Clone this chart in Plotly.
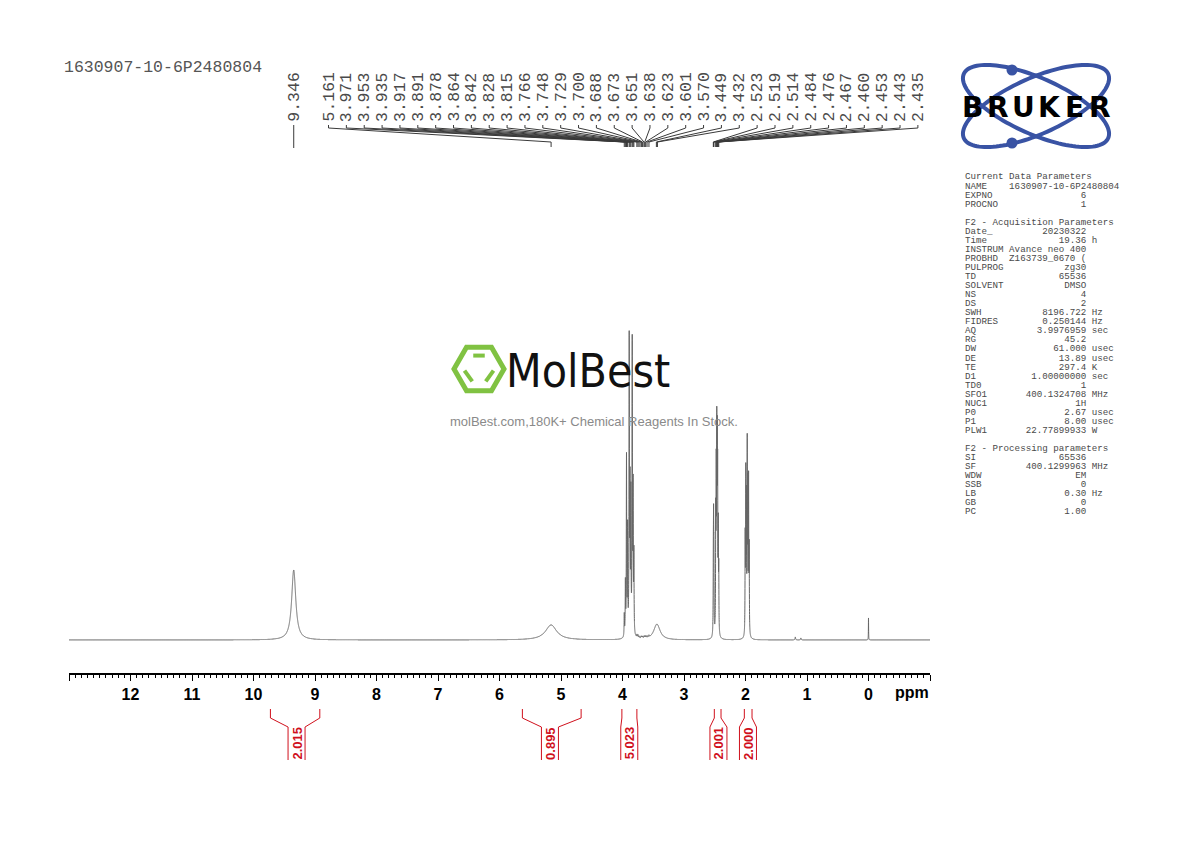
import numpy as np
import plotly.graph_objects as go

# ---------------- data ----------------
# peak list: position (ppm), height (arb.), line width (ppm)
peak_ppm = [9.346, 5.161,
            3.971, 3.953, 3.935, 3.917, 3.891, 3.878, 3.864, 3.842, 3.828, 3.815,
            3.766, 3.748, 3.729, 3.700, 3.688, 3.673, 3.651, 3.638, 3.623, 3.601, 3.570,
            3.449, 3.432,
            2.523, 2.519, 2.514, 2.484, 2.476, 2.467, 2.460, 2.453, 2.443, 2.435,
            2.005, 1.995, 1.985, 1.972, 1.962, 1.950, 1.940,
            1.190, 1.100, 0.000]
peak_height = [70, 15,
               22, 52, 178, 105, 292, 140, 135, 289, 140, 78,
               3, 3, 2, 2, 2, 2, 2, 2, 2, 2, 2,
               8, 8,
               60, 93, 70, 112, 149, 181, 163, 144, 98, 60,
               94, 154, 127, 182, 138, 149, 83,
               3, 2, 22]
peak_width = [0.08, 0.22,
              0.007, 0.007, 0.007, 0.007, 0.007, 0.007, 0.007, 0.007, 0.007, 0.007,
              0.01, 0.01, 0.01, 0.01, 0.01, 0.01, 0.01, 0.01, 0.01, 0.01, 0.01,
              0.12, 0.12,
              0.006, 0.006, 0.006, 0.006, 0.006, 0.006, 0.006, 0.006, 0.006, 0.006,
              0.006, 0.006, 0.006, 0.006, 0.006, 0.006, 0.006,
              0.01, 0.01, 0.004]

# peak labels printed at the top
label_values = ["9.346", "5.161", "3.971", "3.953", "3.935", "3.917", "3.891", "3.878",
                "3.864", "3.842", "3.828", "3.815", "3.766", "3.748", "3.729", "3.700",
                "3.688", "3.673", "3.651", "3.638", "3.623", "3.601", "3.570", "3.449",
                "3.432", "2.523", "2.519", "2.514", "2.484", "2.476", "2.467", "2.460",
                "2.453", "2.443", "2.435"]

# integrals: from, to (ppm), value
integ_from = [9.725, 5.628, 4.010, 2.507, 2.019]
integ_to = [8.922, 4.673, 3.766, 2.398, 1.894]
integ_center = [9.30, 5.18, 3.89, 2.44, 1.96]
integ_value = ["2.015", "0.895", "5.023", "2.001", "2.000"]

axis_ticks = list(range(-1, 14))
axis_labels = ["" if v in (-1, 13) else str(v) for v in axis_ticks]

title_text = "1630907-10-6P2480804"

params = [
    ("Current Data Parameters", None, None),
    ("NAME", "1630907-10-6P2480804", ""),
    ("EXPNO", "6", ""),
    ("PROCNO", "1", ""),
    None,
    ("F2 - Acquisition Parameters", None, None),
    ("Date_", "20230322", ""),
    ("Time", "19.36", "h"),
    ("INSTRUM", "Avance neo 400", ""),
    ("PROBHD", "Z163739_0670 (", ""),
    ("PULPROG", "zg30", ""),
    ("TD", "65536", ""),
    ("SOLVENT", "DMSO", ""),
    ("NS", "4", ""),
    ("DS", "2", ""),
    ("SWH", "8196.722", "Hz"),
    ("FIDRES", "0.250144", "Hz"),
    ("AQ", "3.9976959", "sec"),
    ("RG", "45.2", ""),
    ("DW", "61.000", "usec"),
    ("DE", "13.89", "usec"),
    ("TE", "297.4", "K"),
    ("D1", "1.00000000", "sec"),
    ("TD0", "1", ""),
    ("SFO1", "400.1324708", "MHz"),
    ("NUC1", "1H", ""),
    ("P0", "2.67", "usec"),
    ("P1", "8.00", "usec"),
    ("PLW1", "22.77899933", "W"),
    None,
    ("F2 - Processing parameters", None, None),
    ("SI", "65536", ""),
    ("SF", "400.1299963", "MHz"),
    ("WDW", "EM", ""),
    ("SSB", "0", ""),
    ("LB", "0.30", "Hz"),
    ("GB", "0", ""),
    ("PC", "1.00", ""),
]

# ---------------- layout constants ----------------
W, H = 1190, 842
PL, PR, PT, PB = 69, 930, 0, 673
X_LEFT, X_RIGHT = 13.0, -1.0
Y_RANGE = [-33, 640]

def ppx(p):  # pixel x -> paper x
    return (p - PL) / (PR - PL)

def ppy(p):  # pixel y -> paper y
    return (PB - p) / (PB - PT)

def ppm_at(p):  # pixel x -> ppm
    return X_LEFT + (p - PL) / (PR - PL) * (X_RIGHT - X_LEFT)

def pix_of(v):  # ppm -> pixel x
    return PL + (v - X_LEFT) / (X_RIGHT - X_LEFT) * (PR - PL)

PX_PER_PPM = (PR - PL) / (X_LEFT - X_RIGHT)

# ---------------- spectrum ----------------
xs = np.arange(-1.0, 13.0 + 1e-9, 0.0005)
ys = np.zeros_like(xs)
for p, h, w in zip(peak_ppm, peak_height, peak_width):
    g = (w / 2) ** 2
    ys += h * g / ((xs - p) ** 2 + g)

fig = go.Figure()
fig.add_trace(go.Scatter(x=xs, y=ys, mode="lines",
                         line=dict(color="#666666", width=1, simplify=False),
                         hoverinfo="skip", showlegend=False))

shapes = []
ann = []

LINE_C = "#3a3a3a"
MONO = "Liberation Mono, Courier New, monospace"

# title
ann.append(dict(x=ppx(62), y=ppy(68), xref="paper", yref="paper", text=title_text,
                showarrow=False, xanchor="left", yanchor="middle",
                font=dict(family=MONO, size=16.5, color="#555555")))

# peak labels + connectors
LX0, LDX = 328.5, 17.86
for i, lab in enumerate(label_values):
    v = float(lab)
    pk = v
    if i == 0:
        lx = pix_of(v)
    else:
        lx = LX0 + (i - 1) * LDX
    ann.append(dict(x=ppx(lx), y=ppy(97), xref="paper", yref="paper", text=lab,
                    showarrow=False, textangle=-90, xanchor="center", yanchor="middle",
                    font=dict(family=MONO, size=16.5, color="#4a4a4a")))
    lxp = ppm_at(lx)
    if i == 0:
        path = f"M {lxp},{ppy(125)} L {pk},{ppy(148)}"
    else:
        path = (f"M {lxp},{ppy(125)} L {lxp},{ppy(128)} "
                f"L {pk},{ppy(142)} L {pk},{ppy(147)}")
    shapes.append(dict(type="path", path=path, xref="x", yref="paper",
                       line=dict(color=LINE_C, width=1)))

# integrals
RED = "#d0101c"
for a, b, c, val in zip(integ_from, integ_to, integ_center, integ_value):
    half = 8.5 / PX_PER_PPM
    bl, br = c + half, c - half
    for leg, box in ((a, bl), (b, br)):
        path = (f"M {leg},{ppy(709)} L {leg},{ppy(718)} "
                f"L {box},{ppy(727)} L {box},{ppy(760)}")
        shapes.append(dict(type="path", path=path, xref="x", yref="paper",
                           line=dict(color=RED, width=1)))
    ann.append(dict(x=c, y=ppy(743), xref="x", yref="paper", text=val,
                    showarrow=False, textangle=-90, xanchor="center", yanchor="middle",
                    font=dict(family="Liberation Sans, Arial", size=13, color=RED,
                              weight="bold")))

# ppm unit
ann.append(dict(x=ppm_at(912), y=ppy(693), xref="x", yref="paper", text="ppm",
                showarrow=False, xanchor="center", yanchor="middle",
                font=dict(family="Liberation Sans, Arial", size=16, color="black",
                          weight="bold")))

# parameters block
row = 0
for item in params:
    yv = 177 + row * 9.05
    row += 1
    if item is None:
        continue
    name, value, unit = item
    if value is None:
        txt = name
    else:
        txt = f"{name:<8}{value:>14}"
        if unit:
            txt += " " + unit
    txt = txt.replace(" ", "\u00a0")
    ann.append(dict(x=ppx(963), y=ppy(yv), xref="paper", yref="paper", text=txt,
                    showarrow=False, xanchor="left", yanchor="middle",
                    font=dict(family=MONO, size=9.2, color="#4a4a4a")))

# Bruker logo
BLUE = "#3953a4"
cx, cy = 1036, 106
a_, b_ = 79, 28
for ang in (24, -24):
    t = np.linspace(0, 2 * np.pi, 121)
    th = np.radians(ang)
    ex = cx + a_ * np.cos(t) * np.cos(th) - b_ * np.sin(t) * np.sin(th)
    ey = cy + a_ * np.cos(t) * np.sin(th) + b_ * np.sin(t) * np.cos(th)
    path = "M " + " L ".join(f"{ppx(x)},{ppy(y)}" for x, y in zip(ex, ey)) + " Z"
    shapes.append(dict(type="path", path=path, xref="paper", yref="paper",
                       line=dict(color=BLUE, width=4)))
for dx, dy in ((1012, 70), (1012, 143)):
    shapes.append(dict(type="circle", xref="paper", yref="paper",
                       x0=ppx(dx - 5.5), x1=ppx(dx + 5.5), y0=ppy(dy + 5.5), y1=ppy(dy - 5.5),
                       fillcolor=BLUE, line=dict(color=BLUE, width=0)))
for i, ch in enumerate("BRUKER"):
    ann.append(dict(x=ppx(972.7 + i * 25.5), y=ppy(107), xref="paper", yref="paper",
                    text=ch, showarrow=False, xanchor="center", yanchor="middle",
                    font=dict(family="DejaVu Sans", size=28, color="black", weight="bold")))

# MolBest watermark
GREEN = "#80c242"
hx, hy, hr = 479, 369, 25
hv = hr * 0.866
pts = [(hx - hr, hy), (hx - hr / 2, hy - hv), (hx + hr / 2, hy - hv),
       (hx + hr, hy), (hx + hr / 2, hy + hv), (hx - hr / 2, hy + hv)]
path = "M " + " L ".join(f"{ppx(x)},{ppy(y)}" for x, y in pts) + " Z"
shapes.append(dict(type="path", path=path, xref="paper", yref="paper",
                   line=dict(color=GREEN, width=5)))
ir = hr * 0.62
iv = ir * 0.866
inner = [((hx - ir / 2 + 2, hy - iv), (hx + ir / 2 - 2, hy - iv)),
         ((hx - ir + 1, hy + 1.7), (hx - ir / 2 + 1, hy + iv - 1)),
         ((hx + ir - 1, hy + 1.7), (hx + ir / 2 - 1, hy + iv - 1))]
for (x0, y0), (x1, y1) in inner:
    shapes.append(dict(type="line", xref="paper", yref="paper",
                       x0=ppx(x0), y0=ppy(y0), x1=ppx(x1), y1=ppy(y1),
                       line=dict(color=GREEN, width=4)))
ann.append(dict(x=ppx(588), y=ppy(371), xref="paper", yref="paper", text="MolBest",
                showarrow=False, xanchor="center", yanchor="middle",
                font=dict(family="DejaVu Sans Condensed, Liberation Sans Narrow, Liberation Sans",
                          size=46, color="#111111")))
ann.append(dict(x=ppx(594), y=ppy(421), xref="paper", yref="paper",
                text="molBest.com,180K+ Chemical Reagents In Stock.",
                showarrow=False, xanchor="center", yanchor="middle",
                font=dict(family="Liberation Sans, Arial", size=13, color="#8a8a8a")))

fig.update_layout(
    width=W, height=H,
    margin=dict(l=PL, r=W - PR, t=PT, b=H - PB, pad=0),
    paper_bgcolor="white", plot_bgcolor="white",
    showlegend=False,
    xaxis=dict(range=[X_LEFT, X_RIGHT], showgrid=False, zeroline=False,
               showline=True, linecolor="black", linewidth=1.5,
               ticks="outside", ticklen=6, tickwidth=1.2, tickcolor="black",
               tickmode="array", tickvals=axis_ticks, ticktext=axis_labels,
               tickfont=dict(family="Liberation Sans, Arial", size=16, color="black",
                             weight="bold"),
               minor=dict(tickmode="linear", tick0=0, dtick=0.1, ticks="outside",
                          ticklen=3, tickwidth=1, tickcolor="black", showgrid=False)),
    yaxis=dict(range=Y_RANGE, visible=False, showgrid=False, zeroline=False),
    shapes=shapes,
    annotations=ann,
)

fig.write_html("out.html")
